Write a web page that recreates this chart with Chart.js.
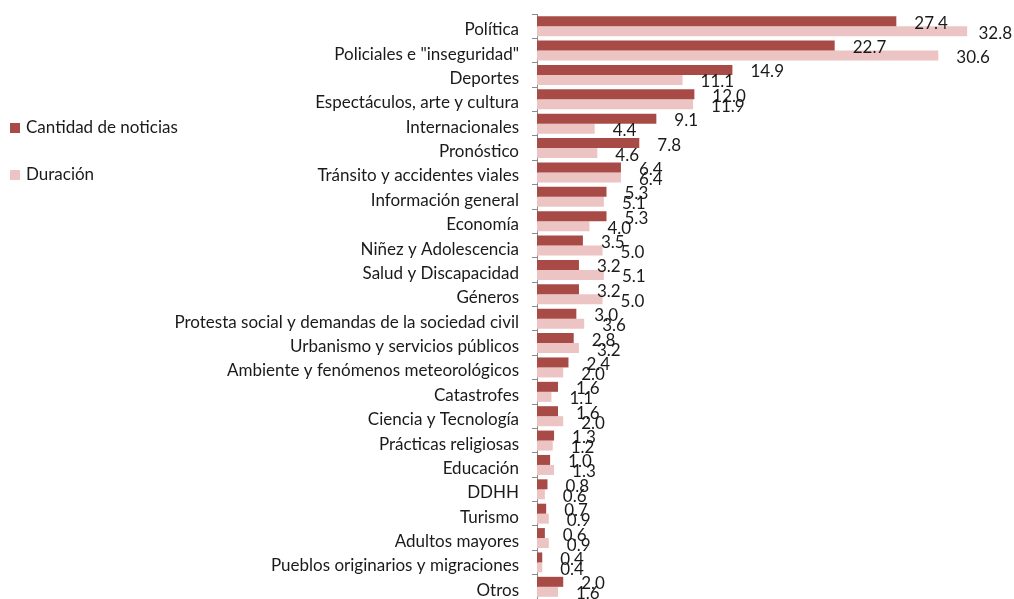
<!DOCTYPE html>
<html>
<head>
<meta charset="utf-8">
<script src="https://cdn.jsdelivr.net/npm/chart.js@4"></script>
<style>
  body { margin: 0; background: #fff; }
  #wrap { width: 1014px; height: 599px; position: relative; }
</style>
</head>
<body>
<div id="wrap"><canvas id="c"></canvas></div>
<script>
const categories = [
  "Política", 'Policiales e "inseguridad"', "Deportes", "Espectáculos, arte y cultura",
  "Internacionales", "Pronóstico", "Tránsito y accidentes viales", "Información general",
  "Economía", "Niñez y Adolescencia", "Salud y Discapacidad", "Géneros",
  "Protesta social y demandas de la sociedad civil", "Urbanismo y servicios públicos",
  "Ambiente y fenómenos meteorológicos", "Catastrofes", "Ciencia y Tecnología",
  "Prácticas religiosas", "Educación", "DDHH", "Turismo", "Adultos mayores",
  "Pueblos originarios y migraciones", "Otros"
];
const cantidad = [27.4, 22.7, 14.9, 12.0, 9.1, 7.8, 6.4, 5.3, 5.3, 3.5, 3.2, 3.2, 3.0, 2.8, 2.4, 1.6, 1.6, 1.3, 1.0, 0.8, 0.7, 0.6, 0.4, 2.0];
const duracion = [32.8, 30.6, 11.1, 11.9, 4.4, 4.6, 6.4, 5.1, 4.0, 5.0, 5.1, 5.0, 3.6, 3.2, 2.0, 1.1, 2.0, 1.2, 1.3, 0.6, 0.9, 0.9, 0.4, 1.6];

const FONT = "Lato, 'Open Sans', sans-serif";

// value labels to the right of each bar, kept inside the canvas
const valueLabels = {
  id: "valueLabels",
  afterDatasetsDraw(chart) {
    const ctx = chart.ctx;
    ctx.save();
    ctx.font = "17px " + FONT;
    ctx.fillStyle = "#1a1a1a";
    ctx.textAlign = "left";
    ctx.textBaseline = "middle";
    chart.data.datasets.forEach((ds, i) => {
      chart.getDatasetMeta(i).data.forEach((el, j) => {
        const txt = ds.data[j].toFixed(1);
        const x = Math.min(el.x + 18, chart.width - ctx.measureText(txt).width - 2);
        ctx.fillText(txt, x, el.y + 2);
      });
    });
    ctx.restore();
  }
};

// legend drawn on the left like the original
const sideLegend = {
  id: "sideLegend",
  afterDraw(chart) {
    const ctx = chart.ctx;
    const ys = [128, 175];
    ctx.save();
    ctx.font = "17px " + FONT;
    ctx.textBaseline = "middle";
    chart.data.datasets.forEach((ds, i) => {
      ctx.fillStyle = ds.backgroundColor;
      ctx.fillRect(10, ys[i] - 5, 10, 10);
      ctx.fillStyle = "#1a1a1a";
      ctx.fillText(ds.label, 26, ys[i]);
    });
    ctx.restore();
  }
};

new Chart(document.getElementById("c"), {
  type: "bar",
  data: {
    labels: categories,
    datasets: [
      { label: "Cantidad de noticias", data: cantidad, backgroundColor: "#A84B47" },
      { label: "Duración", data: duracion, backgroundColor: "#EDC4C4" }
    ]
  },
  options: {
    indexAxis: "y",
    responsive: true,
    maintainAspectRatio: false,
    animation: false,
    datasets: { bar: { categoryPercentage: 0.82, barPercentage: 1.0 } },
    layout: { padding: { top: 14, right: 18, bottom: 0, left: 0 } },
    plugins: {
      legend: { display: false },
      tooltip: { enabled: false }
    },
    scales: {
      x: { display: false, min: 0, max: 35 },
      y: {
        afterFit(s) {
          s.width = 537;
          s.paddingTop = 0;
          s.paddingBottom = 0;
        },
        border: { display: true, color: "#8c8c8c", width: 1 },
        grid: { drawOnChartArea: false, tickLength: 5, color: "#8c8c8c" },
        ticks: {
          font: { family: FONT, size: 17, lineHeight: "7px" },
          color: "#1a1a1a",
          padding: 13,
          autoSkip: false,
          // blank first line nudges the label a few px below the category centre
          callback(value) { return ["", this.getLabelForValue(value)]; }
        }
      }
    }
  },
  plugins: [valueLabels, sideLegend]
});
</script>
</body>
</html>
